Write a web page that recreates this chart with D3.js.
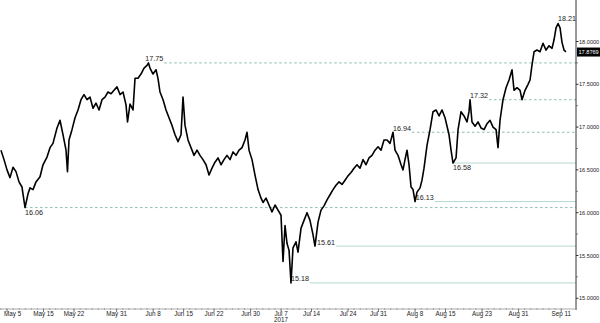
<!DOCTYPE html>
<html>
<head>
<meta charset="utf-8">
<script src="https://cdn.jsdelivr.net/npm/d3@7"></script>
<style>
  html, body { margin: 0; padding: 0; background: #ffffff; }
  svg { display: block; }
</style>
</head>
<body>
<div id="chart"></div>
<script>
// ---- data: USD/MXN-style series, time in trading days since 2017-05-05 ----
const days = [
  -0.99,-0.49,0.00,0.49,0.99,1.48,1.97,2.46,2.96,3.45,3.78,4.27,4.76,5.42,5.91,6.57,7.06,7.55,8.21,8.70,
  9.20,9.69,9.93,10.18,10.67,11.17,11.66,12.15,12.64,13.14,13.63,14.12,14.61,15.11,15.60,16.09,16.58,17.08,17.57,18.06,
  18.56,19.05,19.54,19.79,20.20,20.69,21.02,21.51,22.00,22.50,22.99,23.23,23.48,23.97,24.47,24.79,25.12,25.62,26.11,26.60,
  27.09,27.59,28.08,28.57,28.90,29.23,29.72,30.21,30.71,31.20,31.69,32.18,32.68,33.17,33.66,34.15,34.65,35.14,35.63,36.12,
  36.62,37.11,37.60,38.10,38.59,39.08,39.41,39.74,40.23,40.72,41.22,41.71,42.04,42.53,43.02,43.51,44.01,44.50,44.99,45.32,
  45.65,45.98,46.31,46.63,46.96,47.45,47.78,48.28,48.77,49.26,49.75,50.25,50.57,51.07,51.56,52.05,52.55,53.04,53.53,54.02,
  54.52,55.01,55.50,55.99,56.49,56.98,57.47,57.96,58.46,58.95,59.44,59.93,60.43,60.92,61.41,61.90,62.40,62.89,63.38,63.71,
  64.20,64.70,65.02,65.35,65.68,66.01,66.34,66.67,67.00,67.32,67.82,68.14,68.47,68.97,69.46,69.95,70.44,70.94,71.43,71.92,
  72.25,72.58,72.91,73.23,73.73,74.06,74.55,75.04,75.53,75.86,76.03,76.35,76.85,77.34,77.83,78.33,78.82,79.31,79.80,80.30,
  80.62,80.95,81.44,81.94,82.43,82.92,83.25,83.74,84.24,84.56,85.06,85.55,85.88,86.21,86.54,87.03,87.52,88.01,88.51,89.00,
  89.49,89.82,90.15,90.48,90.81,91.13,91.46,91.79
];
const values = [
  16.73,16.62,16.50,16.41,16.53,16.48,16.36,16.30,16.06,16.22,16.29,16.27,16.36,16.42,16.56,16.65,16.76,16.81,16.99,17.08,
  16.91,16.73,16.48,16.85,16.97,17.11,17.20,17.32,17.38,17.32,17.35,17.22,17.28,17.20,17.32,17.35,17.41,17.39,17.43,17.47,
  17.38,17.41,17.26,17.06,17.27,17.20,17.57,17.57,17.62,17.69,17.72,17.75,17.69,17.62,17.67,17.57,17.41,17.32,17.20,17.11,
  17.02,16.91,16.83,16.91,17.35,17.02,16.85,16.76,16.67,16.73,16.67,16.62,16.56,16.44,16.52,16.59,16.64,16.56,16.62,16.67,
  16.62,16.71,16.67,16.73,16.76,16.85,16.94,16.73,16.62,16.44,16.27,16.17,16.12,16.17,16.09,16.01,16.09,16.03,15.97,15.43,
  15.85,15.64,15.56,15.18,15.59,15.66,15.54,15.82,15.91,16.00,15.91,15.74,15.61,15.89,16.03,16.08,16.15,16.21,16.27,16.32,
  16.36,16.33,16.38,16.43,16.47,16.52,16.56,16.52,16.62,16.56,16.64,16.67,16.73,16.77,16.73,16.85,16.85,16.81,16.94,16.73,
  16.67,16.56,16.50,16.62,16.73,16.56,16.30,16.27,16.13,16.24,16.29,16.38,16.52,16.79,16.97,17.18,17.20,17.13,17.20,17.11,
  17.01,16.91,16.73,16.58,16.64,16.97,17.18,17.13,17.06,17.18,17.32,17.06,17.01,17.06,16.99,16.97,17.04,17.08,17.00,16.97,
  16.76,17.08,17.32,17.46,17.55,17.67,17.43,17.46,17.43,17.32,17.43,17.50,17.55,17.73,17.88,17.90,17.88,17.98,17.90,17.95,
  17.92,18.02,18.16,18.21,18.16,17.99,17.90,17.88
];
const lastValue = 17.8769;

const tickDays   = [0, 6, 11, 18, 24, 29, 34, 40, 45, 50, 56, 61, 67, 72, 78, 84, 91];
const tickLabels = ["May 5","May 15","May 22","May 31","Jun 8","Jun 15","Jun 22","Jun 30","Jul 7",
                    "Jul 14","Jul 24","Jul 31","Aug 8","Aug 15","Aug 23","Aug 31","Sep 11"];
const yearLabel = "2017";
const yearTickDay = 45;

const yTicks = [15, 15.5, 16, 16.5, 17, 17.5, 18];
const yMinorTicks = [15.25, 15.75, 16.25, 16.75, 17.25, 17.75];

// support / resistance levels
const levelValues = [17.75, 16.06, 15.18, 15.61, 16.94, 16.13, 16.58, 17.32];
const levelDays   = [22.70, 2.96, 46.63, 50.90, 63.38, 67.10, 73.23, 76.03];
const levelDashed = [true, true, false, false, true, false, false, true];
const levelBelow  = [false, true, false, false, false, false, true, false];
const peakValue = 18.21;
const peakDay = 90.48;

// ---- layout ----
const W = 600, H = 323;
const axisX = 576;
const xAxisY = 309;
const FONT = "Liberation Sans, Arial, sans-serif";

const svg = d3.select("#chart").append("svg")
  .attr("width", W).attr("height", H)
  .style("background", "#fff");

const x = d3.scaleLinear().domain([-1.15, 91.85]).range([0, 566.4]);
const y = d3.scaleLinear().domain([15, 18]).range([298.3, 41.5]);

const fmt4 = d3.format(".4f");
const fmt2 = d3.format(".2f");

// level lines + labels
const lvl = svg.append("g");
levelValues.forEach((v, i) => {
  const lx = x(levelDays[i]);
  const ly = y(v);
  const t = lvl.append("text")
    .attr("x", lx)
    .attr("y", levelBelow[i] ? ly + 7 : ly - 1.5)
    .attr("font-family", FONT)
    .attr("font-size", 7.2)
    .attr("fill", "#1a1a1a")
    .text(fmt2(v));
  const tw = t.node().getComputedTextLength();
  const start = levelBelow[i] ? lx : lx + tw + 1;
  lvl.insert("line", "text")
    .attr("x1", start).attr("x2", axisX)
    .attr("y1", ly).attr("y2", ly)
    .attr("stroke", levelDashed[i] ? "#8ebdb5" : "#b4d8d1")
    .attr("stroke-width", 1)
    .attr("stroke-dasharray", levelDashed[i] ? "2.5,2.5" : null);
});
lvl.append("text")
  .attr("x", x(peakDay)).attr("y", y(peakValue) - 3)
  .attr("font-family", FONT)
  .attr("font-size", 7.2)
  .attr("fill", "#1a1a1a")
  .text(fmt2(peakValue));

// price line
const data = days.map((d, i) => ({ d, v: values[i] }));
svg.append("path")
  .datum(data)
  .attr("fill", "none")
  .attr("stroke", "#000")
  .attr("stroke-width", 1.6)
  .attr("stroke-linejoin", "round")
  .attr("d", d3.line().x(p => x(p.d)).y(p => y(p.v)));

// right axis
const ra = svg.append("g");
ra.append("line")
  .attr("x1", axisX).attr("x2", axisX).attr("y1", 0).attr("y2", xAxisY + 1)
  .attr("stroke", "#333").attr("stroke-width", 1);
yTicks.forEach(v => {
  ra.append("line").attr("x1", axisX).attr("x2", axisX + 2.5)
    .attr("y1", y(v)).attr("y2", y(v)).attr("stroke", "#333");
  ra.append("text")
    .attr("x", axisX + 3).attr("y", y(v) + 2)
    .attr("font-family", FONT)
    .attr("font-size", 5.6)
    .attr("fill", "#222")
    .text(fmt4(v));
});
yMinorTicks.forEach(v => {
  ra.append("line").attr("x1", axisX).attr("x2", axisX + 1.8)
    .attr("y1", y(v)).attr("y2", y(v)).attr("stroke", "#666");
});
// last value box
const lvy = y(lastValue);
ra.append("rect")
  .attr("x", axisX + 1).attr("y", lvy - 4.5).attr("width", W - axisX - 1).attr("height", 9)
  .attr("fill", "#000");
ra.append("text")
  .attr("x", axisX + 2.5).attr("y", lvy + 2)
  .attr("font-family", FONT)
  .attr("font-size", 5.6)
  .attr("fill", "#fff")
  .text(fmt4(lastValue));

// bottom axis
const ba = svg.append("g");
ba.append("line")
  .attr("x1", 0).attr("x2", axisX).attr("y1", xAxisY).attr("y2", xAxisY)
  .attr("stroke", "#aaa").attr("stroke-width", 1);
d3.range(-1, 92).forEach(d => {
  ba.append("line").attr("x1", x(d)).attr("x2", x(d))
    .attr("y1", xAxisY - 1).attr("y2", xAxisY + 1)
    .attr("stroke", "#999").attr("stroke-width", 0.8);
});
tickDays.forEach((d, i) => {
  ba.append("line").attr("x1", x(d)).attr("x2", x(d))
    .attr("y1", xAxisY).attr("y2", xAxisY + 3)
    .attr("stroke", "#777");
  const t = ba.append("text")
    .attr("x", x(d)).attr("y", 315.5)
    .attr("text-anchor", "middle")
    .attr("font-family", FONT)
    .attr("font-size", 6.3)
    .attr("fill", "#222")
    .text(tickLabels[i]);
  const bb = t.node().getBBox();
  if (bb.x < 2) t.attr("text-anchor", "start").attr("x", 4);
});
ba.append("text")
  .attr("x", x(yearTickDay)).attr("y", 321.5)
  .attr("text-anchor", "middle")
  .attr("font-family", FONT)
  .attr("font-size", 6.3)
  .attr("fill", "#222")
  .text(yearLabel);
</script>
</body>
</html>
